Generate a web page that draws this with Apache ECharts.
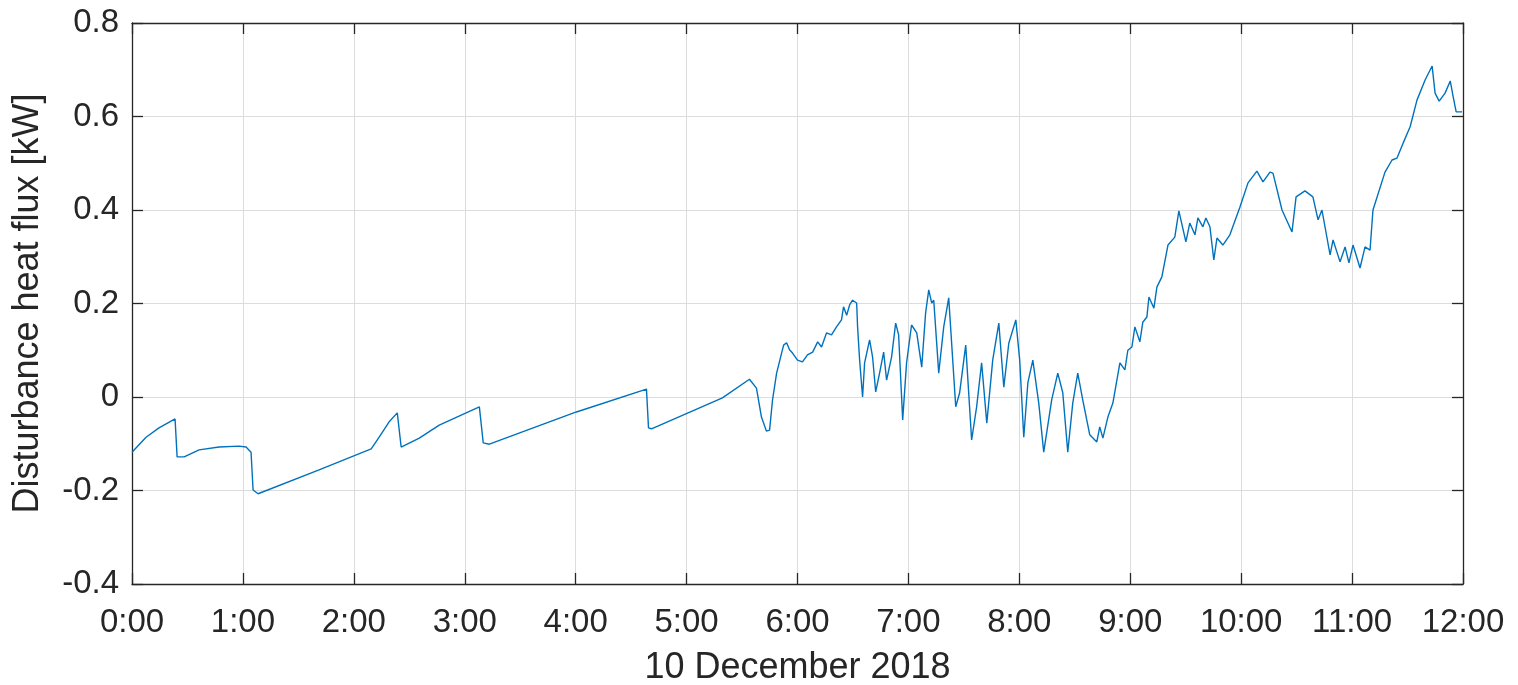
<!DOCTYPE html>
<html>
<head>
<meta charset="utf-8">
<script src="https://cdn.jsdelivr.net/npm/echarts@6/dist/echarts.min.js"></script>
<style>
  html, body { margin: 0; padding: 0; background: #fff; }
  #chart { width: 1518px; height: 685px; }
</style>
</head>
<body>
<div id="chart"></div>
<script>
// time in minutes after 0:00 on 10 Dec 2018
var times = [
  0, 7.6, 14.6, 23.3, 24.4, 28.2, 36.3, 47.1, 57.9, 61.7, 64.4, 65.5, 68.2, 101.2, 129.4,
  133.7, 139.1, 143.5, 145.6, 155.4, 166.2, 187.9, 188.9, 190.0, 193.3, 240.4, 278.3, 279.4,
  281.0, 319.4, 334.0, 337.8, 340.5, 343.2, 344.9, 346.5, 348.7, 351.4, 352.5, 354.1, 355.7,
  357.3, 360.0, 362.7, 365.4, 368.2, 370.9, 373.0, 375.7, 378.4, 381.1, 383.8, 384.9, 386.6,
  388.2, 389.8, 392.0, 392.5, 393.6, 395.2, 396.3, 399.0, 400.6, 402.3, 404.4, 406.6, 408.2,
  410.9, 413.1, 414.7, 416.9, 419.0, 421.7, 424.5, 427.2, 429.3, 431.0, 432.6, 433.7, 436.4,
  439.1, 441.8, 445.6, 447.7, 451.0, 454.2, 456.9, 459.6, 462.4, 465.6, 468.9, 471.6, 474.3,
  478.1, 480.2, 482.4, 484.6, 487.3, 490.5, 493.2, 497.5, 500.8, 503.5, 506.2, 508.9, 511.6,
  514.3, 518.1, 521.9, 523.5, 525.2, 527.9, 530.6, 534.4, 537.1, 538.7, 540.9, 542.5, 545.2,
  546.8, 549.0, 550.1, 552.8, 554.4, 557.1, 560.4, 564.1, 566.3, 570.1, 572.2, 575.0, 576.6,
  579.3, 580.9, 583.1, 585.2, 586.9, 590.1, 593.9, 599.3, 603.7, 608.5, 611.8, 615.6, 617.2,
  622.1, 627.5, 629.7, 634.5, 638.8, 641.6, 643.7, 648.1, 649.7, 653.5, 656.2, 658.3, 660.5,
  664.3, 667.0, 669.7, 671.3, 677.8, 681.6, 684.3, 687.6, 691.4, 695.1, 699.5, 703.3, 704.9,
  707.1, 710.3, 713.1, 714.7, 716.3, 719.5
];

// disturbance heat flux [kW]
var heatFlux = [
  -0.118, -0.086, -0.066, -0.047, -0.128, -0.128, -0.113, -0.107, -0.105, -0.107, -0.118, -0.199, -0.207, -0.156, -0.111,
  -0.086, -0.053, -0.034, -0.107, -0.088, -0.060, -0.021, -0.017, -0.098, -0.101, -0.032, 0.017, -0.066,
  -0.068, -0.002, 0.038, 0.019, -0.043, -0.073, -0.071, -0.006, 0.051, 0.094, 0.111, 0.116, 0.101,
  0.094, 0.079, 0.075, 0.090, 0.096, 0.118, 0.107, 0.137, 0.133, 0.150, 0.165, 0.193, 0.175,
  0.197, 0.207, 0.201, 0.150, 0.079, 0.000, 0.073, 0.122, 0.086, 0.011, 0.051, 0.096, 0.036,
  0.086, 0.158, 0.133, -0.049, 0.073, 0.154, 0.137, 0.064, 0.180, 0.229, 0.201, 0.207, 0.051,
  0.150, 0.212, -0.021, 0.009, 0.111, -0.092, -0.021, 0.073, -0.056, 0.079, 0.158, 0.021, 0.115,
  0.165, 0.079, -0.086, 0.030, 0.079, -0.013, -0.118, -0.006, 0.051, 0.009, -0.118, -0.013, 0.051,
  -0.006, -0.081, -0.096, -0.064, -0.088, -0.043, -0.013, 0.073, 0.058, 0.100, 0.107, 0.150, 0.118,
  0.160, 0.171, 0.214, 0.190, 0.235, 0.257, 0.325, 0.342, 0.398, 0.332, 0.372, 0.347, 0.383,
  0.364, 0.383, 0.364, 0.293, 0.340, 0.325, 0.347, 0.406, 0.458, 0.483, 0.460, 0.481, 0.479,
  0.400, 0.353, 0.428, 0.441, 0.428, 0.379, 0.400, 0.304, 0.336, 0.289, 0.321, 0.287, 0.325,
  0.276, 0.321, 0.314, 0.400, 0.481, 0.507, 0.511, 0.543, 0.578, 0.635, 0.678, 0.708, 0.650,
  0.633, 0.650, 0.676, 0.642, 0.610, 0.610
];

var timeLabels = ['0:00', '1:00', '2:00', '3:00', '4:00', '5:00', '6:00',
  '7:00', '8:00', '9:00', '10:00', '11:00', '12:00'];

var FONT = '"Liberation Sans", Arial, sans-serif';
var TXT = '#262626';

var chart = echarts.init(document.getElementById('chart'));

var points = times.map(function (t, i) { return [t, heatFlux[i]]; });

var frameLine = { show: true, onZero: false, lineStyle: { color: TXT, width: 1.3 } };
var frameTick = { show: true, inside: true, length: 11, lineStyle: { color: TXT, width: 1.3 } };

chart.setOption({
  animation: false,
  backgroundColor: '#fff',
  grid: { left: 132, top: 23, right: 55, bottom: 101, outerBoundsMode: 'none', containLabel: false },
  xAxis: [
    {
      type: 'value', min: 0, max: 720, interval: 60,
      name: '10 December 2018', nameLocation: 'middle', nameGap: 66,
      nameTextStyle: { fontFamily: FONT, fontSize: 36, color: TXT },
      axisLine: frameLine,
      axisTick: frameTick,
      axisLabel: {
        fontFamily: FONT, fontSize: 33, color: TXT, margin: 22,
        formatter: function (v) { return timeLabels[Math.round(v / 60)]; }
      },
      splitLine: { show: true, lineStyle: { color: '#dcdcdc', width: 1 } }
    },
    {
      type: 'value', min: 0, max: 720, interval: 60, position: 'top',
      axisLine: frameLine,
      axisTick: frameTick,
      axisLabel: { show: false },
      splitLine: { show: false }
    }
  ],
  yAxis: [
    {
      type: 'value', min: -0.4, max: 0.8, interval: 0.2,
      name: 'Disturbance heat flux [kW]', nameLocation: 'middle', nameGap: 86,
      nameTextStyle: { fontFamily: FONT, fontSize: 36, color: TXT },
      axisLine: frameLine,
      axisTick: frameTick,
      axisLabel: {
        fontFamily: FONT, fontSize: 33, color: TXT, margin: 13,
        formatter: function (v) { return String(Math.round(v * 10) / 10); }
      },
      splitLine: { show: true, lineStyle: { color: '#dcdcdc', width: 1 } }
    },
    {
      type: 'value', min: -0.4, max: 0.8, interval: 0.2, position: 'right',
      axisLine: frameLine,
      axisTick: frameTick,
      axisLabel: { show: false },
      splitLine: { show: false }
    }
  ],
  series: [
    {
      type: 'line',
      data: points,
      showSymbol: false,
      lineStyle: { color: '#0072BD', width: 1.4 },
      itemStyle: { color: '#0072BD' }
    }
  ]
});
</script>
</body>
</html>
